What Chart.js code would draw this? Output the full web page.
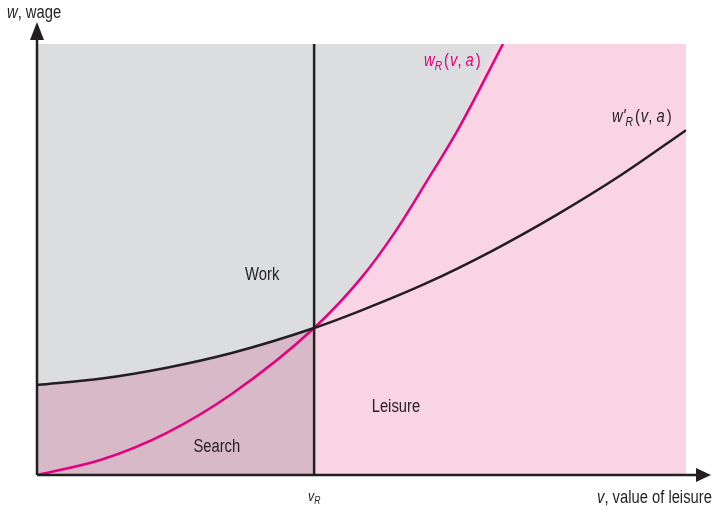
<!DOCTYPE html>
<html lang="en">
<head>
    <meta charset="UTF-8">
    <title>Reservation wage</title>
    <script src="https://cdn.jsdelivr.net/npm/chart.js"></script>
    <style>
        body { margin: 0; background: #fff; }
        .chart-container { width: 712px; height: 511px; }
    </style>
</head>
<body>
    <div class="chart-container">
        <canvas id="wageChart"></canvas>
    </div>

    <script>
        // value of leisure at which the two curves cross
        const vR = 4.27;

        // w_R(v, a) - magenta reservation wage curve
        const wRx = [0, 1, 2, 3, 4.27, 5, 5.5, 6, 6.5, 7.18];
        const wRy = [0, 0.36, 0.98, 1.88, 3.41, 4.58, 5.6, 6.8, 8.05, 10];

        // w'_R(v, a) - black curve
        const wR2x = [0, 1, 2, 3, 4.27, 5, 6, 7, 8, 9, 10];
        const wR2y = [2.09, 2.24, 2.49, 2.83, 3.41, 3.82, 4.45, 5.19, 6.03, 6.96, 8.0];

        const xMax = 10;
        const yMax = 10;

        const toPts = (xs, ys) => xs.map((x, i) => ({ x: x, y: ys[i] }));

        const magentaPts = toPts(wRx, wRy);
        const blackPts = toPts(wR2x, wR2y);
        const searchPts = blackPts.filter(p => p.x <= vR);
        const leisurePts = magentaPts.concat([{ x: xMax, y: yMax }]);

        const font = "'Liberation Sans', Arial, sans-serif";
        const squeeze = 0.82;   // condensed look

        // draw a row of text pieces, each {t, italic, sub, gap}
        function drawRuns(ctx, runs, x, y, size, color) {
            ctx.textBaseline = 'middle';
            ctx.textAlign = 'left';
            ctx.fillStyle = color;
            let cx = x;
            runs.forEach(r => {
                const s = r.sub ? size * 0.7 : size;
                ctx.font = (r.italic ? 'italic ' : '') + s + 'px ' + font;
                ctx.save();
                ctx.translate(cx, y + (r.sub ? size * 0.3 : 0));
                ctx.scale(squeeze, 1);
                ctx.fillText(r.t, 0, 0);
                ctx.restore();
                cx += ctx.measureText(r.t).width * squeeze + (r.gap || 0);
            });
        }

        function drawCentered(ctx, text, x, y, size, color) {
            ctx.font = size + 'px ' + font;
            const w = ctx.measureText(text).width * squeeze;
            drawRuns(ctx, [{ t: text }], x - w / 2, y, size, color);
        }

        const decorPlugin = {
            id: 'decor',
            afterDatasetsDraw(chart) {
                const ctx = chart.ctx;
                const xs = chart.scales.x;
                const ys = chart.scales.y;
                const x0 = xs.getPixelForValue(0);
                const y0 = ys.getPixelForValue(0);
                const dark = '#231f20';
                ctx.save();

                // axes with arrowheads
                ctx.strokeStyle = dark;
                ctx.fillStyle = dark;
                ctx.lineWidth = 2.5;
                ctx.beginPath();
                ctx.moveTo(x0, y0);
                ctx.lineTo(698, y0);
                ctx.moveTo(x0, y0);
                ctx.lineTo(x0, 36);
                ctx.stroke();
                ctx.beginPath();
                ctx.moveTo(711, y0);
                ctx.lineTo(696, y0 - 7);
                ctx.lineTo(696, y0 + 7);
                ctx.closePath();
                ctx.fill();
                ctx.beginPath();
                ctx.moveTo(x0, 22);
                ctx.lineTo(x0 - 7, 40);
                ctx.lineTo(x0 + 7, 40);
                ctx.closePath();
                ctx.fill();

                drawRuns(ctx, [{ t: 'w', italic: true }, { t: ', wage' }], 7, 13, 18, dark);
                drawRuns(ctx, [{ t: 'v', italic: true }, { t: ', value of leisure' }], 597, 498, 18, dark);
                drawRuns(ctx, [{ t: 'v', italic: true }, { t: 'R', italic: true, sub: true }], 308, 497, 15, dark);

                drawCentered(ctx, 'Work', xs.getPixelForValue(3.47), ys.getPixelForValue(4.64), 18, dark);
                drawCentered(ctx, 'Leisure', xs.getPixelForValue(5.53), ys.getPixelForValue(1.58), 18, dark);
                drawCentered(ctx, 'Search', xs.getPixelForValue(2.77), ys.getPixelForValue(0.65), 18, dark);

                drawRuns(ctx, [
                    { t: 'w', italic: true },
                    { t: 'R', italic: true, sub: true, gap: 2 },
                    { t: '(', gap: 1 },
                    { t: 'v', italic: true },
                    { t: ', ' },
                    { t: 'a', italic: true, gap: 2 },
                    { t: ')' }
                ], 424, 61, 18, '#e6007e');

                drawRuns(ctx, [
                    { t: 'w', italic: true },
                    { t: "'", italic: true },
                    { t: 'R', italic: true, sub: true, gap: 2 },
                    { t: '(', gap: 1 },
                    { t: 'v', italic: true },
                    { t: ', ' },
                    { t: 'a', italic: true, gap: 2 },
                    { t: ')' }
                ], 612, 117, 18, dark);

                ctx.restore();
            }
        };

        const ctx = document.getElementById('wageChart').getContext('2d');
        new Chart(ctx, {
            type: 'line',
            data: {
                datasets: [
                    {   // vertical line at v_R
                        data: [{ x: vR, y: 0 }, { x: vR, y: yMax }],
                        borderColor: '#231f20', borderWidth: 2.5, fill: false, order: 1
                    },
                    {   // w'_R curve
                        data: blackPts,
                        borderColor: '#231f20', borderWidth: 2.5, fill: false, order: 2
                    },
                    {   // w_R curve
                        data: magentaPts,
                        borderColor: '#e6007e', borderWidth: 2.5, fill: false, order: 3
                    },
                    {   // search region
                        data: searchPts,
                        borderWidth: 0, borderColor: 'rgba(0,0,0,0)',
                        backgroundColor: '#d8b9c8', fill: 'origin', order: 4
                    },
                    {   // leisure region
                        data: leisurePts,
                        borderWidth: 0, borderColor: 'rgba(0,0,0,0)',
                        backgroundColor: '#f9d4e4', fill: 'origin', order: 5
                    },
                    {   // work region (whole area)
                        data: [{ x: 0, y: yMax }, { x: xMax, y: yMax }],
                        borderWidth: 0, borderColor: 'rgba(0,0,0,0)',
                        backgroundColor: '#dcdddf', fill: 'origin', order: 6
                    }
                ]
            },
            options: {
                responsive: true,
                maintainAspectRatio: false,
                animation: false,
                layout: { padding: { left: 37, right: 26, top: 44, bottom: 36 } },
                elements: { point: { radius: 0 }, line: { cubicInterpolationMode: 'monotone' } },
                plugins: { legend: { display: false }, tooltip: { enabled: false } },
                scales: {
                    x: { type: 'linear', min: 0, max: xMax, display: false },
                    y: { type: 'linear', min: 0, max: yMax, display: false }
                }
            },
            plugins: [decorPlugin]
        });
    </script>
</body>
</html>
